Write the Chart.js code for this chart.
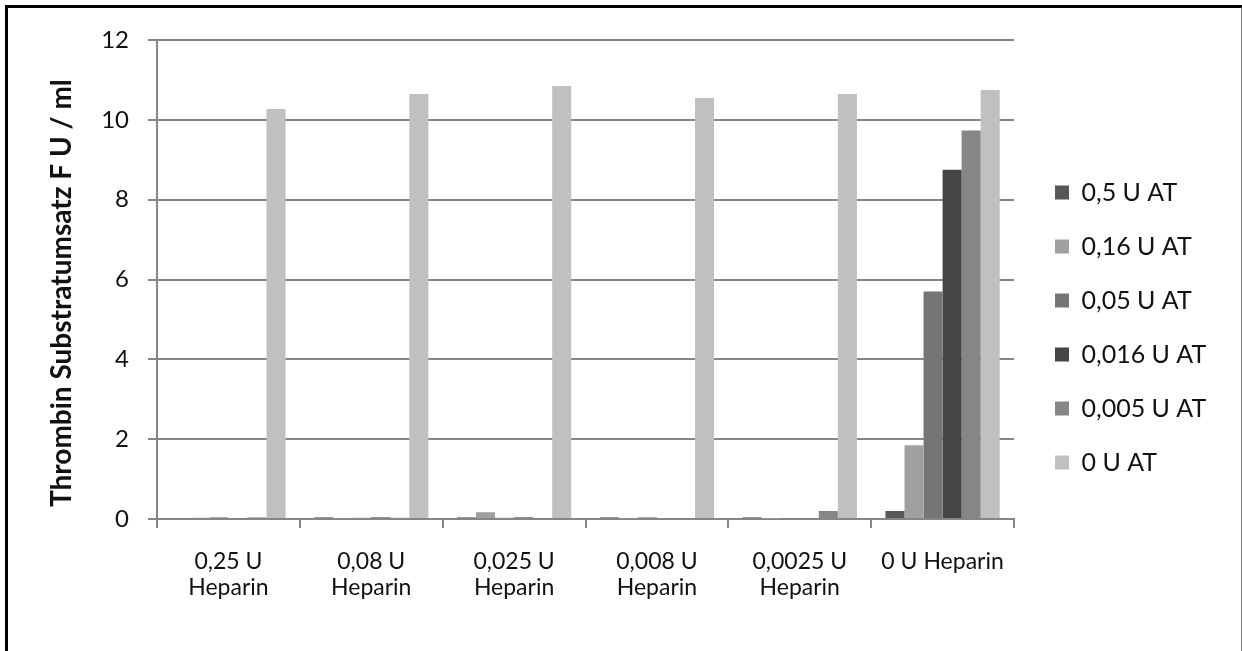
<!DOCTYPE html>
<html>
<head>
<meta charset="utf-8">
<script src="https://cdn.jsdelivr.net/npm/chart.js@4/dist/chart.umd.min.js"></script>
<style>
  body { margin: 0; background: #fff; }
  #wrap { position: relative; width: 1242px; height: 651px; overflow: hidden; }
  #frame { position: absolute; left: 5px; top: 5px; width: 1233px; height: 700px;
    border-top: 3px solid #000; border-left: 3px solid #000; border-right: 2px solid #808080;
    pointer-events: none; }
</style>
</head>
<body>
<div id="wrap">
  <canvas id="barChart" width="1242" height="651"></canvas>
  <div id="frame"></div>
</div>
<script>
const categorias = [
  ["0,25 U", "Heparin"], ["0,08 U", "Heparin"], ["0,025 U", "Heparin"],
  ["0,008 U", "Heparin"], ["0,0025 U", "Heparin"], "0 U Heparin"
];
const serieNomes = ["0,5 U AT", "0,16 U AT", "0,05 U AT", "0,016 U AT", "0,005 U AT", "0 U AT"];
const at05 = [0, 0.04, 0.04, 0.04, 0.04, 0.2];
const at016 = [0.03, 0.02, 0.17, 0.02, 0.01, 1.85];
const at005 = [0.04, 0.03, 0.03, 0.04, 0, 5.7];
const at0016 = [0, 0.04, 0.04, 0, 0, 8.75];
const at0005 = [0.04, 0.03, 0.01, 0, 0.2, 9.73];
const at0 = [10.27, 10.65, 10.85, 10.55, 10.65, 10.75];
const yTicks = [0, 2, 4, 6, 8, 10, 12];

const cores = ["#575757", "#a0a0a0", "#757575", "#454545", "#868686", "#c0c0c0"];
const valores = [at05, at016, at005, at0016, at0005, at0];

const fonte = "Lato, Carlito, sans-serif";

// empurra a legenda um pouco para a direita e para cima
const ajusteLegenda = {
  id: "ajusteLegenda",
  afterInit(chart) {
    const orig = chart.legend.fit;
    chart.legend.fit = function () {
      orig.call(this);
      this.width = 228;
    };
  },
  afterLayout(chart) {
    chart.legend.left += 12;
    chart.legend.top -= 18;
    chart.legend.bottom -= 18;
  }
};

const dataBar = {
  labels: categorias,
  datasets: serieNomes.map((nome, i) => ({
    label: nome,
    data: valores[i],
    backgroundColor: cores[i],
    borderWidth: 0,
    categoryPercentage: 0.8,
    barPercentage: 1,
  })),
};

const configBar = {
  type: "bar",
  data: dataBar,
  plugins: [ajusteLegenda],
  options: {
    responsive: false,
    animation: false,
    layout: { padding: { left: 41, top: 40, right: 0, bottom: 0 } },
    plugins: {
      tooltip: { enabled: false },
      legend: {
        position: "right",
        align: "center",
        labels: {
          color: "#111",
          font: { family: fonte, size: 25 },
          boxWidth: 14,
          boxHeight: 14,
          padding: 29,
        },
      },
    },
    scales: {
      x: {
        afterFit(scale) { scale.height = 132; },
        grid: {
          offset: true,
          drawOnChartArea: false,
          drawTicks: true,
          tickLength: 9,
          color: "#868686",
          lineWidth: 2,
        },
        border: { color: "#868686", width: 2 },
        ticks: {
          color: "#111",
          font: { family: fonte, size: 23, lineHeight: 1.13 },
          padding: 21,
          maxRotation: 0,
          autoSkip: false,
        },
      },
      y: {
        min: 0,
        max: 12,
        afterFit(scale) { scale.width = 116; },
        afterBuildTicks(scale) { scale.ticks = yTicks.map(v => ({ value: v })); },
        grid: {
          color: "#868686",
          lineWidth: 2,
          tickLength: 9,
        },
        border: { color: "#868686", width: 2 },
        ticks: {
          color: "#111",
          font: { family: fonte, size: 24 },
          padding: 19,
        },
        title: {
          display: true,
          text: "Thrombin Substratumsatz F U / ml\u00A0\u00A0\u00A0\u00A0",
          color: "#111",
          font: { family: fonte, size: 28, weight: "bold" },
          padding: 4,
        },
      },
    },
  },
};

const barChart = new Chart(document.getElementById("barChart"), configBar);
</script>
</body>
</html>
